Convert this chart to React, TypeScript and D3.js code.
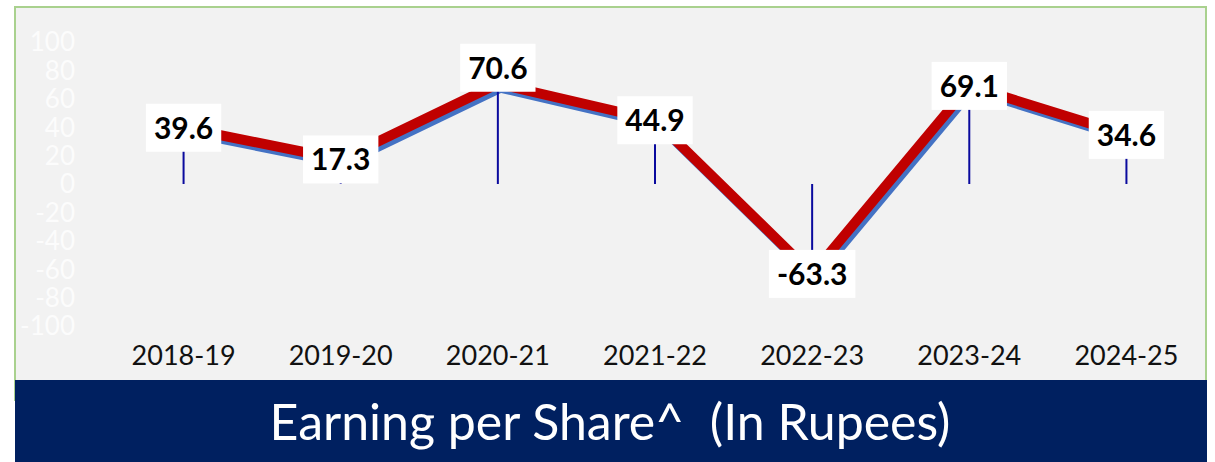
import { useRef, useEffect } from 'react'
import * as d3 from 'd3'

const W = 1215
const H = 462
const YEARS = ['2018-19', '2019-20', '2020-21', '2021-22', '2022-23', '2023-24', '2024-25']
const EPS = [39.6, 17.3, 70.6, 44.9, -63.3, 69.1, 34.6]
const Y_TICKS = [100, 80, 60, 40, 20, 0, -20, -40, -60, -80, -100]
// labels that sit above their point instead of centred on it
const LABEL_ABOVE = ['2020-21']
const TITLE = 'Earning per Share^  (In Rupees)'

const FONT = 'Lato, "Open Sans", sans-serif'

export default function App() {
  const svgRef = useRef<SVGSVGElement>(null)

  useEffect(() => {
    if (!svgRef.current) return
    const el = d3.select(svgRef.current)
    el.selectAll('*').remove()

    const x = d3.scalePoint<string>().domain(YEARS).range([105, 1205]).padding(0.5)
    const y = d3.scaleLinear().domain([-100, 100]).range([326, 42])

    // panel
    el.append('rect').attr('x', 15).attr('y', 7).attr('width', 1191).attr('height', 393)
      .attr('fill', '#f2f2f2').attr('stroke', '#a9d18e').attr('stroke-width', 2)

    // y tick labels (white on light grey)
    el.append('g').selectAll('text').data(Y_TICKS).join('text')
      .attr('x', 75).attr('y', (d) => y(d)).attr('dy', '0.36em')
      .attr('text-anchor', 'end').attr('font-family', FONT).attr('font-size', 26)
      .attr('fill', '#fcfcfc').text((d) => d)

    // x labels
    el.append('g').selectAll('text').data(YEARS).join('text')
      .attr('x', (d) => x(d) ?? 0).attr('y', 365)
      .attr('text-anchor', 'middle').attr('font-family', FONT).attr('font-size', 27)
      .attr('fill', '#111').text((d) => d)

    const pts = YEARS.map((c, i) => ({ c, v: EPS[i] }))
    const line = d3.line<{ c: string; v: number }>().x((d) => x(d.c) ?? 0).y((d) => y(d.v))

    // blue shadow line
    el.append('path').datum(pts).attr('d', line).attr('fill', 'none')
      .attr('stroke', '#4472c4').attr('stroke-width', 8).attr('stroke-linejoin', 'miter')
      .attr('transform', 'translate(3,5)')
    // red main line
    el.append('path').datum(pts).attr('d', line).attr('fill', 'none')
      .attr('stroke', '#c00000').attr('stroke-width', 10).attr('stroke-linejoin', 'miter')

    // drop lines
    el.append('g').selectAll('line').data(pts).join('line')
      .attr('x1', (d) => x(d.c) ?? 0).attr('x2', (d) => x(d.c) ?? 0)
      .attr('y1', y(0)).attr('y2', (d) => y(d.v))
      .attr('stroke', '#0a0a9e').attr('stroke-width', 2)

    // data labels
    const lab = el.append('g').selectAll('g').data(pts).join('g')
      .attr('transform', (d) => {
        const dy = LABEL_ABOVE.includes(d.c) ? -16 : 0
        return `translate(${x(d.c)},${y(d.v) + dy})`
      })
    const rects = lab.append('rect').attr('fill', '#fff')
    const txt = lab.append('text').attr('text-anchor', 'middle').attr('dy', '0.36em')
      .attr('font-family', FONT).attr('font-weight', 700).attr('font-size', 30)
      .attr('fill', '#000').text((d) => d.v.toFixed(1))
    txt.each(function (_, i) {
      const w = (this as SVGTextElement).getComputedTextLength() + 16
      d3.select(rects.nodes()[i]).attr('x', -w / 2).attr('y', -24).attr('width', w).attr('height', 48)
    })

    // title banner
    el.append('rect').attr('x', 15).attr('y', 380).attr('width', 1192).attr('height', 82).attr('fill', '#002060')
    el.append('text').attr('x', 610).attr('y', 440).attr('text-anchor', 'middle')
      .attr('font-family', FONT).attr('font-size', 50).attr('fill', '#fff')
      .attr('xml:space', 'preserve').style('white-space', 'pre').text(TITLE)
  }, [])

  return (
    <div style={{ position: 'fixed', left: 0, top: 0, background: '#fff' }}>
      <svg ref={svgRef} width={W} height={H} style={{ display: 'block' }} />
    </div>
  )
}
